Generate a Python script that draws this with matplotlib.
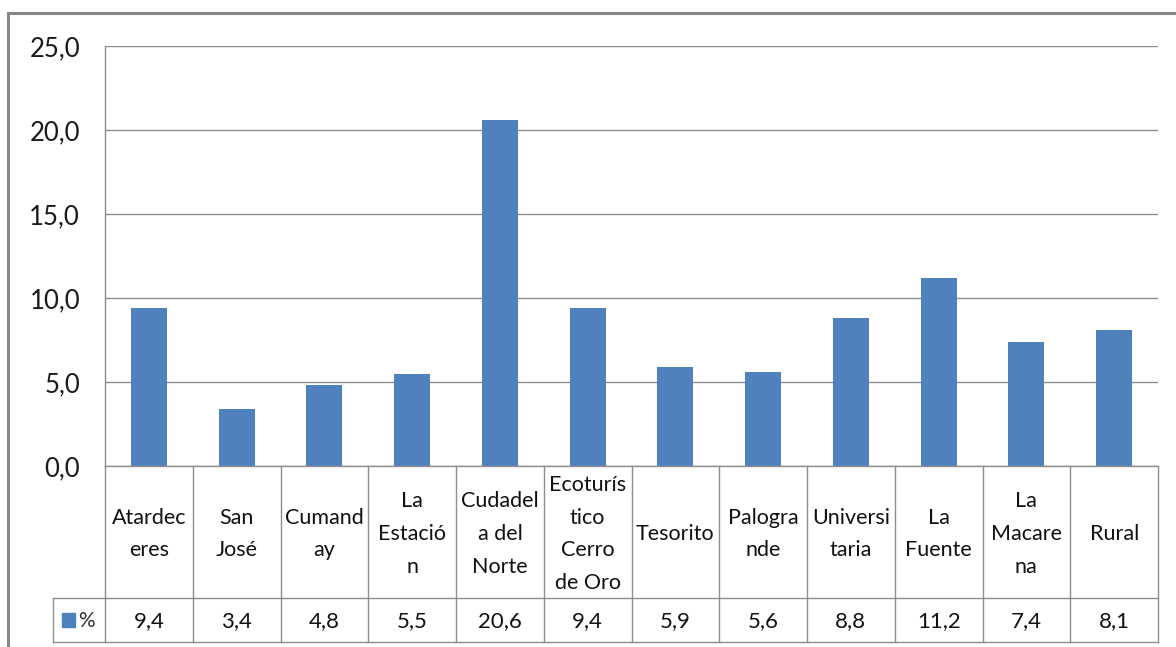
import matplotlib
matplotlib.use("Agg")
import matplotlib.pyplot as plt
from matplotlib.patches import Rectangle

categories = [
    "Atardec\neres", "San\nJosé", "Cumand\nay", "La\nEstació\nn",
    "Cudadel\na del\nNorte", "Ecoturís\ntico\nCerro\nde Oro", "Tesorito",
    "Palogra\nnde", "Universi\ntaria", "La\nFuente", "La\nMacare\nna", "Rural",
]
values = [9.4, 3.4, 4.8, 5.5, 20.6, 9.4, 5.9, 5.6, 8.8, 11.2, 7.4, 8.1]
series_name = "%"
yticks = [0, 5, 10, 15, 20, 25]

W, H = 1176, 647
BAR = "#4F81BD"
GRID = "#8E8E8E"
FONT = "Lato"

plt.rcParams["font.family"] = [FONT, "DejaVu Sans"]

fig = plt.figure(figsize=(W / 100, H / 100), dpi=100)


def fx(x):
    return x / W


def fy(y):
    return 1 - y / H


# outer chart frame
fig.patches.append(Rectangle((fx(8), fy(700)), fx(1300), fy(13) - fy(700),
                             transform=fig.transFigure, fill=False,
                             edgecolor="#868686", linewidth=2.2))

# plot area
left, right, top, zero = 105, 1158, 46, 466
ax = fig.add_axes([fx(left), fy(zero), fx(right - left), fy(top) - fy(zero)])
n = len(values)
ax.bar([i + 0.5 for i in range(n)], values, width=0.41, color=BAR, zorder=3)
ax.set_xlim(0, n)
ax.set_ylim(0, 25)
ax.set_yticks(yticks)
ax.set_yticklabels([f"{v:.1f}".replace(".", ",") for v in yticks],
                   fontsize=18.5, color="#1a1a1a")
ax.tick_params(axis="y", length=0, pad=18)
ax.set_xticks([])
ax.grid(axis="y", color=GRID, linewidth=1.0, zorder=0)
for s in ["top", "right", "bottom"]:
    ax.spines[s].set_visible(False)
ax.spines["left"].set_color(GRID)
ax.spines["left"].set_linewidth(1.0)

# data table below the plot
row_split, bottom, leg_left = 598, 642, 53
tax = fig.add_axes([fx(leg_left), fy(bottom), fx(right - leg_left), fy(zero) - fy(bottom)])
tax.set_axis_off()
unit = (right - left) / n
x0 = -(left - leg_left) / unit
tax.set_xlim(x0, n)
tax.set_ylim(bottom, zero)
lc = GRID
lw = 1.0
for i in range(n + 1):
    tax.plot([i, i], [zero, bottom], color=lc, lw=lw, clip_on=False)
tax.plot([x0, x0], [row_split, bottom], color=lc, lw=lw, clip_on=False)
tax.plot([0, n], [zero, zero], color=lc, lw=lw, clip_on=False)
tax.plot([x0, n], [row_split, row_split], color=lc, lw=lw, clip_on=False)
tax.plot([x0, n], [bottom, bottom], color=lc, lw=lw, clip_on=False)

for i, (c, v) in enumerate(zip(categories, values)):
    tax.text(i + 0.5, (zero + row_split) / 2 + 2, c, ha="center", va="center",
             fontsize=15.5, linespacing=1.8, color="#111111")
    tax.text(i + 0.5, (row_split + bottom) / 2 + 1, f"{v:.1f}".replace(".", ","),
             ha="center", va="center", fontsize=16, color="#111111")

# legend key inside the table
key_w = 13 / unit
tax.add_patch(Rectangle((x0 + 9 / unit, 613 + 0), key_w, 14, color=BAR))
tax.text(x0 + 25 / unit, (row_split + bottom) / 2 + 1, series_name,
         ha="left", va="center", fontsize=15, color="#333333")

fig.savefig("out.png", dpi=100)
